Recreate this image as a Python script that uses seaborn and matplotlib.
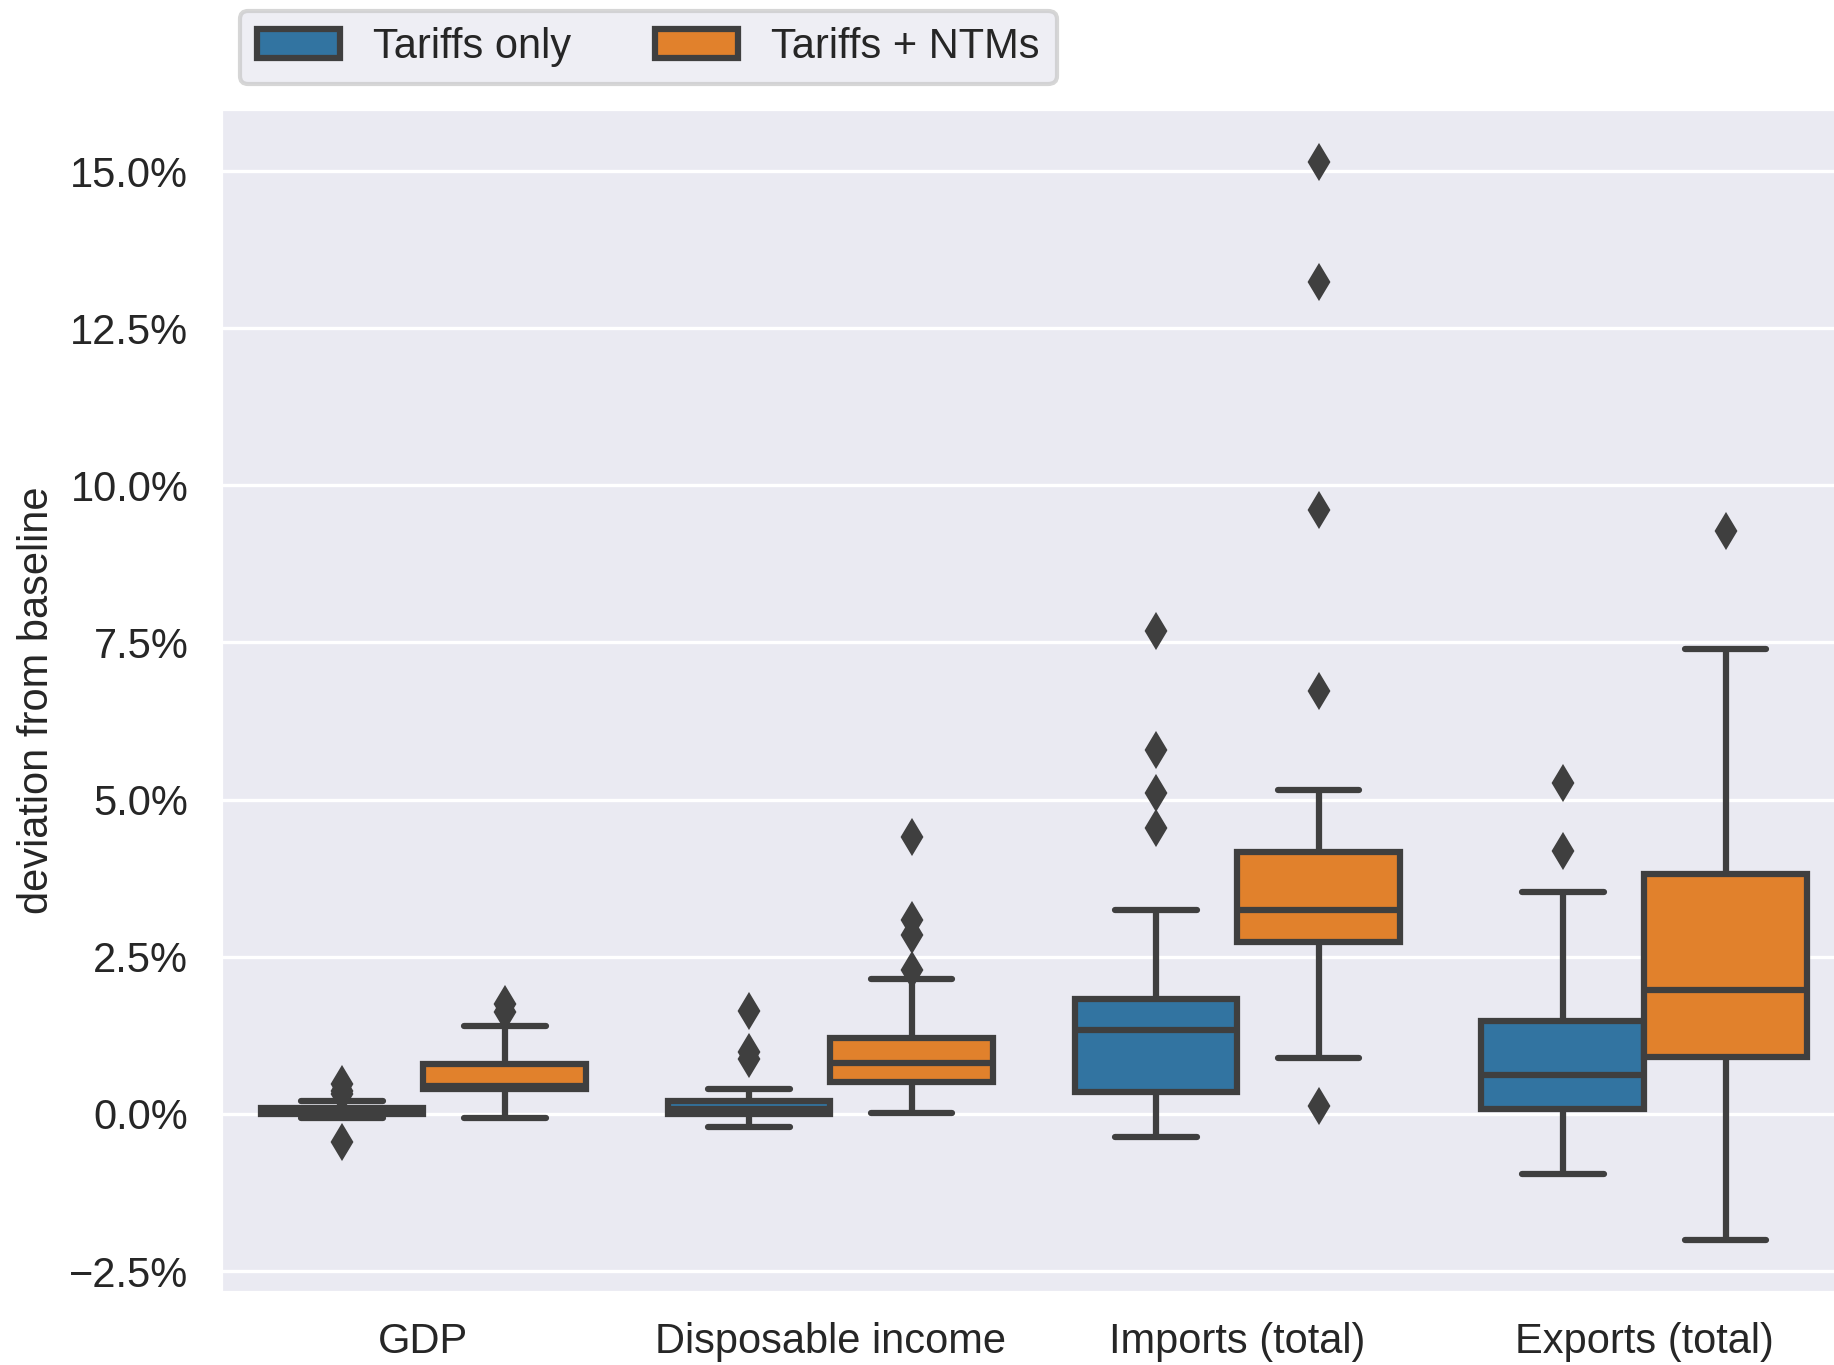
import numpy as np
import pandas as pd
import matplotlib
matplotlib.use("Agg")
import matplotlib.pyplot as plt
from matplotlib.ticker import PercentFormatter
import seaborn as sns

# categories and scenarios
indicators = ["GDP", "Disposable income", "Imports (total)", "Exports (total)"]
scenarios = ["Tariffs only", "Tariffs + NTMs"]

# deviation from baseline in percent, one list per indicator/scenario
gdp_tariffs = [-0.44, -0.07, -0.04, -0.02, 0.0, 0.01, 0.02, 0.03, 0.04,
               0.05, 0.06, 0.08, 0.09, 0.2, 0.32, 0.37, 0.47]
gdp_ntms = [-0.07, 0.18, 0.31, 0.39, 0.41, 0.43, 0.44, 0.55, 0.68, 0.80,
            1.40, 1.62, 1.75]
income_tariffs = [-0.21, -0.12, -0.06, -0.02, 0.0, 0.03, 0.05, 0.07, 0.08,
                  0.11, 0.14, 0.17, 0.2, 0.39, 0.87, 0.98, 1.64]
income_ntms = [0.01, 0.2, 0.3, 0.38, 0.45, 0.5, 0.58, 0.66, 0.72, 0.77, 0.81,
               0.88, 0.96, 1.05, 1.13, 1.2, 2.14, 2.29, 2.85, 3.08, 4.40]
imports_tariffs = [-0.37, -0.1, 0.1, 0.2, 0.28, 0.34, 0.55, 0.8, 1.0, 1.2,
                   1.33, 1.45, 1.55, 1.65, 1.75, 1.83, 3.24, 4.54, 5.11,
                   5.79, 7.68]
imports_ntms = [0.12, 0.89, 1.6, 2.2, 2.5, 2.73, 2.85, 2.95, 3.05, 3.15, 3.25,
                3.4, 3.6, 3.8, 4.0, 4.17, 5.16, 6.73, 9.61, 13.24, 15.15]
exports_tariffs = [-0.96, -0.5, -0.1, 0.08, 0.3, 0.45, 0.62, 0.9, 1.2, 1.48,
                   3.53, 4.18, 5.26]
exports_ntms = [-2.0, 0.3, 0.91, 1.4, 1.97, 2.9, 3.81, 7.40, 9.27]

groups = [
    ("GDP", "Tariffs only", gdp_tariffs),
    ("GDP", "Tariffs + NTMs", gdp_ntms),
    ("Disposable income", "Tariffs only", income_tariffs),
    ("Disposable income", "Tariffs + NTMs", income_ntms),
    ("Imports (total)", "Tariffs only", imports_tariffs),
    ("Imports (total)", "Tariffs + NTMs", imports_ntms),
    ("Exports (total)", "Tariffs only", exports_tariffs),
    ("Exports (total)", "Tariffs + NTMs", exports_ntms),
]

rows = []
for ind, sc, vals in groups:
    for v in vals:
        rows.append({"indicator": ind, "scenario": sc, "deviation": v})
df = pd.DataFrame(rows)

sns.set_theme(style="darkgrid")
plt.rcParams["font.family"] = ["Liberation Sans", "DejaVu Sans"]
plt.rcParams["grid.linewidth"] = 0.8

fig = plt.figure(figsize=(1835 / 300, 1365 / 300), dpi=300)
ax = fig.add_axes([0.1199, 0.0524, 0.887, 0.8687])

line_gray = "#3f3f3f"
sns.boxplot(data=df, x="indicator", y="deviation", hue="scenario",
            order=indicators, hue_order=scenarios, ax=ax,
            palette="tab10", saturation=0.75,
            linewidth=1.5, linecolor=line_gray,
            flierprops=dict(marker="d", markerfacecolor=line_gray,
                            markeredgecolor=line_gray, markersize=5))

ax.yaxis.set_major_formatter(PercentFormatter(xmax=100, decimals=1))
ax.set_xlabel("")
ax.set_ylabel("deviation from baseline", fontsize=10, labelpad=3)
ax.tick_params(axis="y", labelsize=10, length=0, pad=7.6)
ax.tick_params(axis="x", labelsize=10, length=0, pad=6.8)

sns.move_legend(ax, "lower left", bbox_to_anchor=(0.0123, 1.02),
                ncol=2, title=None, frameon=True, fontsize=10,
                borderaxespad=0)

fig.savefig("out.png", dpi=300)
